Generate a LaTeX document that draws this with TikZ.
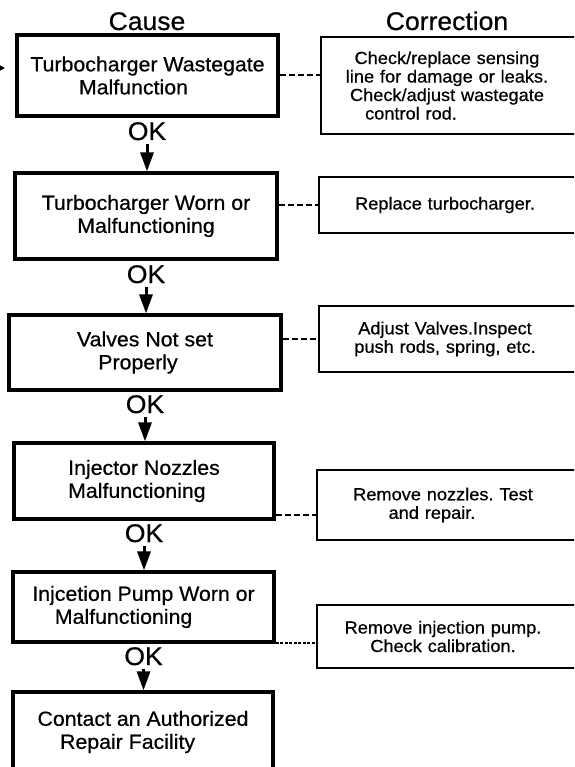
\documentclass[tikz,border=0pt]{standalone}
\usepackage{fontspec}
\setmainfont[FakeStretch=1.04,FakeBold=0.6]{Liberation Sans}
\usepackage{tikz}
\usetikzlibrary{arrows.meta,calc}
\newcommand{\headfont}{\fontsize{25.5}{28}\selectfont}
\newcommand{\causefont}{\fontsize{20.5}{23}\selectfont}
\newcommand{\fixfont}{\fontsize{17.5}{18.5}\selectfont}
\frenchspacing

\begin{document}
\begin{tikzpicture}[x=1pt,y=-1pt,>={Triangle[length=19pt,width=13pt]},
  cause/.style={draw,line width=3.2pt,align=center,font=\causefont,inner sep=0pt},
  fix/.style={text width=240pt,inner xsep=6pt,align=center,font=\fixfont},
  fixline/.style={line width=2.3pt},
  okarrow/.style={->,line width=3pt},
  link/.style={dash pattern=on 6pt off 3pt,line width=2pt},
  head/.style={font=\headfont,anchor=base}]
\useasboundingbox (0,0) rectangle (574,767);
\clip (0,0) rectangle (574,767);
\node[head] (cause) at (147,30) {Cause};
\node[head] (correction) at (447,30) {Correction};
% cause column
\node[cause,minimum width=261pt,minimum height=81pt] (c1) at (147.5,75.5) {Turbocharger Wastegate\\Malfunction\hspace*{28pt}\mbox{}};
\node[cause,minimum width=262pt,minimum height=86pt] (c2) at (146,216) {Turbocharger Worn or\\Malfunctioning};
\node[cause,minimum width=272pt,minimum height=75pt] (c3) at (145,352.5) {Valves Not set\\Properly\hspace*{14pt}\mbox{}};
\node[cause,minimum width=260pt,minimum height=76pt,align=left] (c4) at (144,481) {Injector Nozzles\\Malfunctioning};
\node[cause,minimum width=261pt,minimum height=70pt,align=left] (c5) at (143.5,607) {Injcetion Pump Worn or\\\hspace*{1.1em}Malfunctioning};
\node[cause,minimum width=260pt,minimum height=80pt,align=left] (c6) at (143,732) {Contact an Authorized\\\hspace*{1.1em}Repair Facility};
\node[head] (ok1) at (147,140) {OK};
\node[head] (ok2) at (146,283) {OK};
\node[head] (ok3) at (145,413) {OK};
\node[head] (ok4) at (144,542) {OK};
\node[head] (ok5) at (143.5,665) {OK};
\draw[okarrow] (ok1.south) -- (ok1.south |- c2.north);
\draw[okarrow] (ok2.south) -- (ok2.south |- c3.north);
\draw[okarrow] (ok3.south) -- (ok3.south |- c4.north);
\draw[okarrow] (ok4.south) -- (ok4.south |- c5.north);
\draw[okarrow] (ok5.south) -- (ok5.south |- c6.north);
\coordinate (src) at (-10,68);
\coordinate (dst) at (5,68);
\draw[-{Triangle[length=5pt,width=5pt]},line width=1.2pt] (src) -- (dst);
% correction column
\node[fix,minimum height=97pt] (r1) at (447,85.5) {Check/replace sensing\\line for damage or leaks.\\Check/adjust wastegate\\control rod.\hspace*{72pt}\mbox{}};
\node[fix,minimum height=56pt] (r2) at (445,205) {Replace turbocharger.};
\node[fix,minimum height=66pt] (r3) at (445,339) {Adjust Valves.Inspect\\push rods, spring, etc.};
\node[fix,minimum height=70pt] (r4) at (443,505) {Remove nozzles. Test\\and repair.\hspace*{22pt}\mbox{}};
\node[fix,minimum height=63pt] (r5) at (443,636.5) {Remove injection pump.\\Check calibration.};
\foreach \r in {r1,r2,r3,r4,r5}
  \draw[fixline] ($(\r.north east)+(40,0)$) -| (\r.south west) -- ($(\r.south east)+(40,0)$);
\coordinate (d4) at ($(c4.south east)+(0,-6)$);
\coordinate (d5) at ($(c5.south east)+(0,-1)$);
\draw[link] (c1.east) -- (c1.east -| r1.west);
\draw[link] (r2.west -| c2.east) -- (r2.west);
\draw[link] (r3.west -| c3.east) -- (r3.west);
\draw[link] (d4) -- (d4 -| r4.west);
\draw[link,dash pattern=on 3pt off 1.5pt] (d5) -- (d5 -| r5.west);
\end{tikzpicture}
\end{document}
